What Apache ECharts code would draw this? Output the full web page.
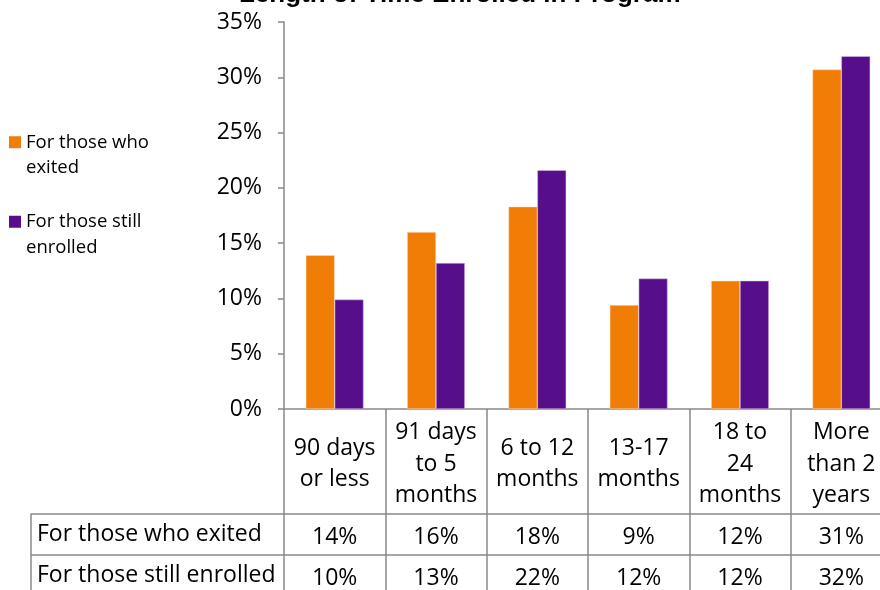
<!DOCTYPE html>
<html>
<head>
<meta charset="utf-8">
<script src="https://cdn.jsdelivr.net/npm/echarts@6/dist/echarts.min.js"></script>
<style>
  html, body { margin: 0; padding: 0; background: #fff; }
  #chart { width: 880px; height: 590px; }
</style>
</head>
<body>
<div id="chart"></div>
<script>
  // categories (table header cells)
  var categories = ['90 days\nor less', '91 days\nto 5\nmonths', '6 to 12\nmonths', '13-17\nmonths', '18 to\n24\nmonths', 'More\nthan 2\nyears'];
  var seriesNames = ['For those who exited', 'For those still enrolled'];
  var exited = [13.9, 16.0, 18.3, 9.4, 11.6, 30.7];
  var stillEnrolled = [9.9, 13.2, 21.6, 11.8, 11.6, 31.9];
  var yTicks = [0, 5, 10, 15, 20, 25, 30, 35];

  var font = 'Open Sans';
  var gray = '#898989';
  var orange = '#F07D05';
  var purple = '#570E8B';

  function pct(v) { return Math.round(v) + '%'; }

  var chart = echarts.init(document.getElementById('chart'));
  chart.setOption({
    animation: false,
    title: {
      text: 'Length of Time Enrolled in Program',
      left: 239,
      top: -18,
      padding: 0,
      textStyle: { fontFamily: 'Liberation Sans', fontWeight: 'bold', fontSize: 26, color: '#000' }
    },
    legend: {
      orient: 'vertical',
      left: 9,
      top: 104,
      padding: 0,
      itemWidth: 12,
      itemHeight: 12,
      itemGap: 3,
      icon: 'rect',
      data: seriesNames,
      itemStyle: { borderWidth: 0 },
      // blank first line so the square sits beside the first text line
      formatter: function (name) {
        var w = name.split(' ');
        return '\n' + w.slice(0, 3).join(' ') + '\n' + w.slice(3).join(' ');
      },
      textStyle: { fontFamily: font, fontSize: 18.5, color: '#000', lineHeight: 25.5 }
    },
    grid: [
      // plot runs past the right edge of the page, as in the original
      { left: 284, width: 608, top: 22, height: 387, outerBoundsMode: 'none' },
      // row header box of the data table
      { left: 31, width: 253, top: 514, height: 82, outerBoundsMode: 'none' }
    ],
    xAxis: [
      {
        type: 'category',
        gridIndex: 0,
        data: categories,
        axisLine: { show: true, lineStyle: { color: gray, width: 1.5 } },
        axisTick: { show: true, alignWithLabel: false, length: 187, lineStyle: { color: gray, width: 1.5 } },
        axisLabel: {
          interval: 0, margin: 55, verticalAlign: 'middle',
          fontFamily: font, fontSize: 23, lineHeight: 31.5, color: '#000'
        }
      },
      {
        type: 'category',
        gridIndex: 0,
        position: 'bottom',
        offset: 105,
        data: categories,
        axisLine: { show: true, lineStyle: { color: gray, width: 1.5 } },
        axisTick: { show: false },
        axisLabel: {
          interval: 0, margin: 23, verticalAlign: 'middle',
          fontFamily: font, fontSize: 23, color: '#000',
          formatter: function (v, i) { return pct(exited[i]); }
        }
      },
      {
        type: 'category',
        gridIndex: 0,
        position: 'bottom',
        offset: 146,
        data: categories,
        axisLine: { show: true, lineStyle: { color: gray, width: 1.5 } },
        axisTick: { show: false },
        axisLabel: {
          interval: 0, margin: 23, verticalAlign: 'middle',
          fontFamily: font, fontSize: 23, color: '#000',
          formatter: function (v, i) { return pct(stillEnrolled[i]); }
        }
      },
      { type: 'value', gridIndex: 1, min: 0, max: 1, show: false }
    ],
    yAxis: [
      {
        type: 'value',
        gridIndex: 0,
        min: yTicks[0],
        max: yTicks[yTicks.length - 1],
        interval: yTicks[1] - yTicks[0],
        axisLine: { show: true, lineStyle: { color: gray, width: 1.5 } },
        axisTick: { show: true, inside: false, length: 6, lineStyle: { color: gray, width: 1.5 } },
        splitLine: { show: false },
        axisLabel: { formatter: '{value}%', margin: 22, fontFamily: font, fontSize: 23, color: '#000' }
      },
      {
        type: 'category',
        gridIndex: 1,
        inverse: true,
        data: seriesNames,
        axisLine: { show: true, lineStyle: { color: gray, width: 1.5 } },
        axisTick: { show: false },
        splitLine: { show: true, lineStyle: { color: gray, width: 1.5 } },
        axisLabel: { inside: true, margin: 6, padding: [5, 0, 0, 0], fontFamily: font, fontSize: 23, color: '#000' }
      }
    ],
    series: [
      {
        name: seriesNames[0], type: 'bar', xAxisIndex: 0, yAxisIndex: 0,
        data: exited, barGap: '0%', barCategoryGap: '43%',
        itemStyle: { color: orange, borderColor: '#fde3c8', borderWidth: 0.5 }
      },
      {
        name: seriesNames[1], type: 'bar', xAxisIndex: 0, yAxisIndex: 0,
        data: stillEnrolled, barGap: '0%', barCategoryGap: '43%',
        itemStyle: { color: purple, borderColor: '#d9c8e6', borderWidth: 0.5 }
      }
    ]
  });
</script>
</body>
</html>
